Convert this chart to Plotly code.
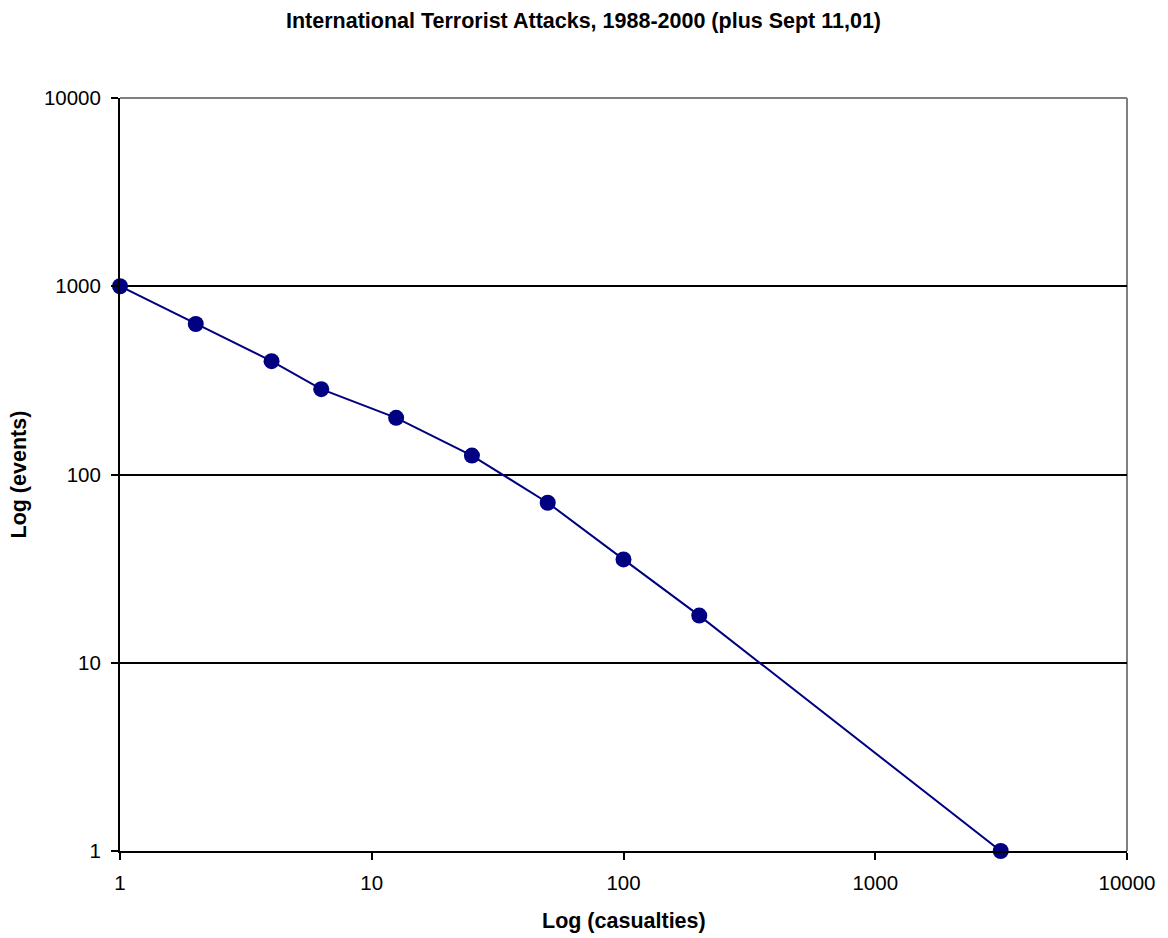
import plotly.graph_objects as go

casualties = [1, 2, 4, 6.3, 12.5, 25, 50, 100, 200, 3150]
events = [1000, 630, 400, 284, 200, 126, 70.8, 35.4, 17.8, 1]
tick_vals = [1, 10, 100, 1000, 10000]
tick_text = ["1", "10", "100", "1000", "10000"]

FONT = "Arial, Liberation Sans, sans-serif"

# page body has an 8px default margin; the figure is sized to fit the window
W, H = 1160, 930

fig = go.Figure()
fig.add_trace(go.Scatter(
    x=casualties, y=events, mode="lines+markers",
    line=dict(color="#000080", width=2),
    marker=dict(color="#000080", size=16),
    showlegend=False, cliponaxis=False,
))

fig.update_layout(
    width=W, height=H,
    paper_bgcolor="white", plot_bgcolor="white",
    margin=dict(l=112, r=38, t=90, b=87),
    font=dict(family=FONT, color="black", size=20.5),
    title=dict(text="<b>International Terrorist Attacks, 1988-2000 (plus Sept 11,01)</b>",
               x=575.5 / W, xanchor="center", xref="container",
               y=1 - 12 / H, yanchor="middle", yref="container",
               font=dict(size=21.5, family=FONT, color="black")),
    shapes=[
        dict(type="line", xref="paper", yref="paper", x0=0, x1=1, y0=1, y1=1,
             line=dict(color="#808080", width=2), layer="below"),
        dict(type="line", xref="paper", yref="paper", x0=1, x1=1, y0=0, y1=1,
             line=dict(color="#808080", width=2), layer="below"),
    ],
    annotations=[
        dict(text="<b>Log (casualties)</b>", xref="paper", yref="paper",
             x=0.5, y=0, yshift=-70, showarrow=False, yanchor="middle",
             xanchor="center", font=dict(size=21.5, family=FONT, color="black")),
        dict(text="<b>Log (events)</b>", xref="paper", yref="paper",
             x=0, y=0.5, xshift=-102, showarrow=False, textangle=-90,
             xanchor="center", yanchor="middle",
             font=dict(size=21.5, family=FONT, color="black")),
    ],
)

fig.update_xaxes(
    type="log", range=[0, 4], tickvals=tick_vals, ticktext=tick_text,
    showgrid=False, zeroline=False,
    showline=True, linecolor="black", linewidth=2,
    ticks="outside", ticklen=7, tickwidth=2, tickcolor="black",
    ticklabelstandoff=5,
)
fig.update_yaxes(
    type="log", range=[0, 4], tickvals=tick_vals, ticktext=tick_text,
    showgrid=True, gridcolor="black", gridwidth=2, zeroline=False,
    showline=True, linecolor="black", linewidth=2,
    ticks="outside", ticklen=7, tickwidth=2, tickcolor="black",
    ticklabelstandoff=6,
)

fig.write_html("out.html")
